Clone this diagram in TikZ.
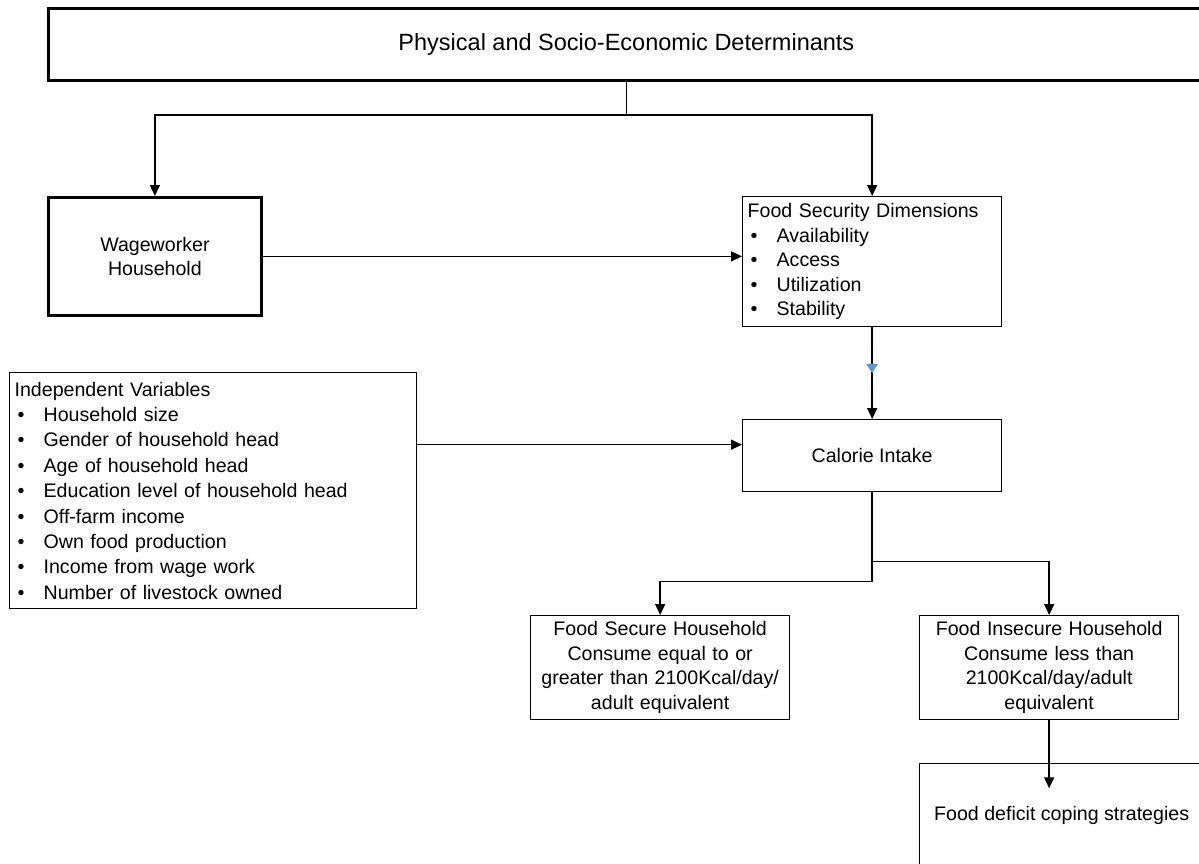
\documentclass[tikz,border=0pt]{standalone}
\usepackage{fontspec}
\setmainfont{Liberation Sans}
\usetikzlibrary{arrows.meta,positioning,decorations.markings}
\definecolor{midblue}{RGB}{91,155,213}
\newcommand{\bul}{\makebox[29pt][l]{\hspace{3pt}\textbullet}}

\begin{document}
\begin{tikzpicture}[->, >={Triangle[width=10pt,length=11pt]}, x=1pt, y=-1pt, line width=1.5pt,
    box/.style={draw, line width=1.3pt, anchor=north west, inner sep=0pt, font=\fontsize{19.6}{24.5}\selectfont, align=center},
    thickbox/.style={box, line width=2.8pt},
    listbox/.style={box, align=left, inner xsep=5pt}]
  \useasboundingbox (0,0) rectangle (1199,864);
  \node[thickbox, minimum width=1156pt, minimum height=72pt, font=\fontsize{23.5}{28}\selectfont] (det) at (47,7) {Physical and Socio-Economic Determinants};
  \node[thickbox, minimum width=213pt, minimum height=118pt] (wage) at (47,196) {Wageworker\\Household};
  \node[listbox, text width=249pt, minimum height=130pt] (fsd) at (742,196)
    {Food Security Dimensions\\ \bul Availability\\ \bul Access\\ \bul Utilization\\ \bul Stability};
  \node[listbox, text width=397pt, minimum height=236pt, font=\fontsize{19.6}{25.4}\selectfont] (iv) at (9,372)
    {Independent Variables\\ \bul Household size\\ \bul Gender of household head\\ \bul Age of household head\\
     \bul Education level of household head\\ \bul Off-farm income\\ \bul Own food production\\
     \bul Income from wage work\\ \bul Number of livestock owned};
  \node[box, minimum width=259pt, minimum height=72pt] (cal) at (742,419) {Calorie Intake};
  \node[box, text width=259pt, minimum height=104pt] (secure) at (530,615)
    {Food Secure Household\\Consume equal to or\\greater than 2100Kcal/day/\\adult equivalent};
  \node[box, text width=259pt, minimum height=104pt] (insecure) at (919,615)
    {Food Insecure Household\\Consume less than\\2100Kcal/day/adult\\equivalent};
  \node[box, minimum width=284pt, minimum height=103pt] (coping) at (919,763) {Food deficit coping strategies};

  \draw[-] (det.south) -- ++(0,33) coordinate (split);
  \draw (split) -| (wage.north);
  \draw (split) -| (fsd.north);
  \draw (wage.east) -- (wage.east -| fsd.west);
  \draw[postaction={decorate}, decoration={markings, mark=at position 0.5 with {\arrow[color=midblue]{Triangle[width=11pt,length=9pt]}}}] (fsd.south) -- (cal.north);
  \path ([yshift=11pt]cal.west) coordinate (calin);
  \draw (calin -| iv.east) -- (calin);
  \draw (cal.south) -- ++(0,89) -| (secure.north);
  \draw ([yshift=-69pt]cal.south) -| (insecure.north);
  \draw (insecure.south) -- ++(0,68);
\end{tikzpicture}
\end{document}
